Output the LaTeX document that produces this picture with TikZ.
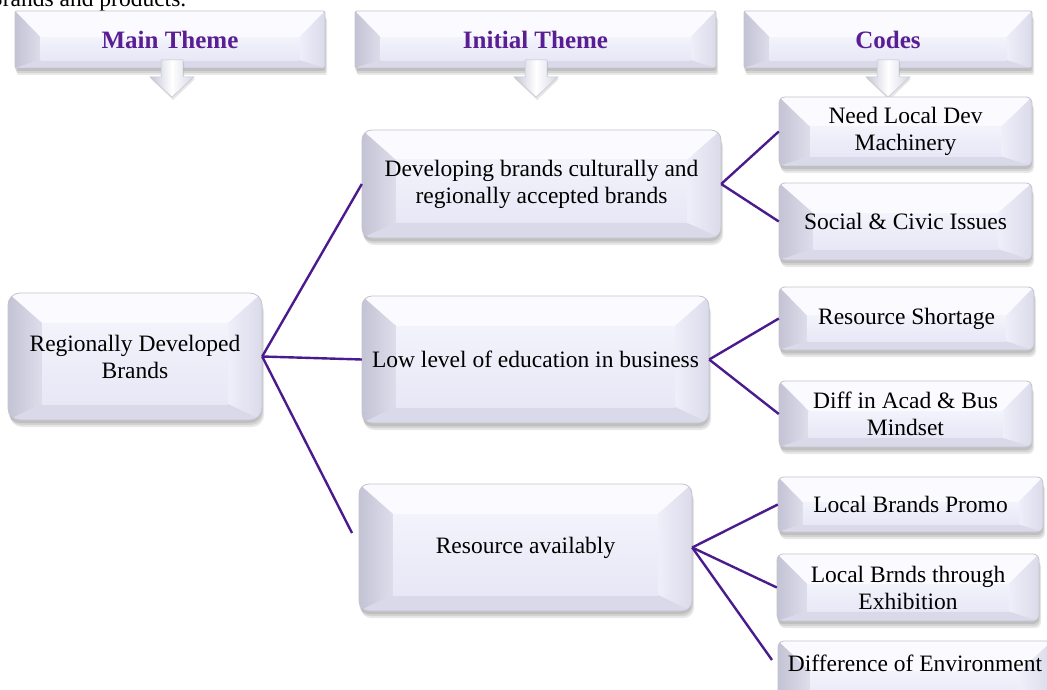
\documentclass[tikz,border=0pt]{standalone}
\usepackage{fontspec}
\setmainfont{Liberation Serif}
\definecolor{boxtop}{HTML}{F3F3FC}
\definecolor{boxbot}{HTML}{E7E7F6}
\definecolor{bevT}{HTML}{FBFBFF}
\definecolor{bevLa}{HTML}{C3C3D5}
\definecolor{bevLb}{HTML}{DDDDEB}
\definecolor{bevRa}{HTML}{DADAEA}
\definecolor{bevRb}{HTML}{EFEFFA}
\definecolor{bevB}{HTML}{D9D9E9}
\definecolor{edgec}{HTML}{C4C4CE}
\definecolor{linkc}{HTML}{4B1B8E}
\definecolor{headc}{HTML}{5A1E94}
\definecolor{arrA}{HTML}{C6C6D8}
\definecolor{arrB}{HTML}{D6D6E6}
\tikzset{
  link/.style={draw=linkc, line width=2.4pt},
  lbl/.style={align=center, font=\fontsize{23.5}{27}\selectfont, inner sep=0pt},
  hlbl/.style={font=\bfseries\fontsize{25}{27}\selectfont, text=headc},
  arrowfill/.style={left color=arrA, right color=arrB, middle color=white},
}
\newcommand\bevbox[8]{%
  \pgfmathsetmacro\bw{#4-#2}%
  \pgfmathsetmacro\bh{#5-#3}%
  \pgfmathsetmacro\bs{min(34,0.45*\bh)}%
  \pgfmathsetmacro\bt{min(30,0.46*\bh)}%
  \pgfmathsetmacro\bb{min(16,0.14*\bh)}%
  \foreach \k in {1,2,3}{\fill[black,opacity=0.09,rounded corners=#6] (#2+\k-1,#3+2*\k+1) rectangle (#4+\k-1,#5+2*\k+1);}
  \begin{scope}
    \clip[rounded corners=#6] (#2,#3) rectangle (#4,#5);
    \fill[boxbot] (#2,#3) rectangle (#4,#5);
    \fill[bevT] (#2,#3) -- (#4,#3) -- (#4-\bs,#3+\bt) -- (#2+\bs,#3+\bt) -- cycle;
    \shade[left color=bevLa, right color=bevLb] (#2,#3) -- (#2+\bs,#3+\bt) -- (#2+\bs,#5-\bb) -- (#2,#5) -- cycle;
    \shade[left color=bevRb, right color=bevRa] (#4,#3) -- (#4-\bs,#3+\bt) -- (#4-\bs,#5-\bb) -- (#4,#5) -- cycle;
    \fill[bevB] (#2,#5) -- (#2+\bs,#5-\bb) -- (#4-\bs,#5-\bb) -- (#4,#5) -- cycle;
    \shade[top color=boxtop, bottom color=boxbot] (#2+\bs,#3+\bt) rectangle (#4-\bs,#5-\bb);
  \end{scope}
  \draw[edgec, line width=0.8pt, rounded corners=#6] (#2,#3) rectangle (#4,#5);
  \node[lbl, minimum width=\bw pt, minimum height=\bh pt, #7] (#1) at ({(#2+#4)/2},{(#3+#5)/2}) {#8};
}
\newcommand\hdarrow[1]{%
  \fill[black,opacity=0.10] (#1-10,62) -- (#1+12,62) -- (#1+12,79) -- (#1+23,79) -- (#1+1,100) -- (#1-21,79) -- (#1-10,79) -- cycle;
  \shade[arrowfill] (#1-11,60) -- (#1+11,60) -- (#1+11,77) -- (#1+22,77) -- (#1,97) -- (#1-22,77) -- (#1-11,77) -- cycle;
  \draw[edgec, line width=0.5pt] (#1-11,60) -- (#1+11,60) -- (#1+11,77) -- (#1+22,77) -- (#1,97) -- (#1-22,77) -- (#1-11,77) -- cycle;
}
\begin{document}
\begin{tikzpicture}[x=1pt,y=-1pt]
\useasboundingbox (0,0) rectangle (1047,690);
\clip (0,0) rectangle (1047,690);
\fill[white] (0,0) rectangle (1047,690);

\node[anchor=base west, font=\fontsize{23.5}{27}\selectfont, inner sep=0pt] (note) at (-13,7) {Brands and products.};

% headers
\bevbox{h1}{15}{11}{325}{68}{2}{hlbl}{Main Theme}
\bevbox{h2}{355}{11}{716}{68}{2}{hlbl}{Initial Theme}
\bevbox{h3}{744}{11}{1032}{68}{2}{hlbl}{Codes}
\hdarrow{172}
\hdarrow{536}
\hdarrow{888}

% free connector ends
\coordinate (e3) at (352,533);
\coordinate (e7) at (772,660);

% main theme
\bevbox{m}{8}{293}{262}{420}{12}{}{Regionally Developed\\Brands}
% initial themes
\bevbox{i1}{362}{130}{721}{238}{10}{}{Developing brands culturally and\\regionally accepted brands}
\bevbox{i2}{362}{296}{709}{423}{10}{}{Low level of education in business}
\bevbox{i3}{359}{484}{692}{611}{10}{}{Resource availably}
% codes
\bevbox{c1}{779}{97}{1032}{166}{6}{}{Need Local Dev\\Machinery}
\bevbox{c2}{779}{183}{1032}{260}{6}{}{Social \& Civic Issues}
\bevbox{c3}{779}{287}{1034}{350}{6}{}{Resource Shortage}
\bevbox{c4}{779}{381}{1032}{447}{6}{}{Diff in Acad \& Bus\\Mindset}
\bevbox{c5}{778}{477}{1043}{532}{6}{}{Local Brands Promo}
\bevbox{c6}{777}{554}{1039}{621}{6}{}{Local Brnds through\\Exhibition}
\bevbox{c7}{778}{641}{1052}{712}{6}{yshift=13pt}{Difference of Environment}

\draw[link] (m.east) -- (i1.west);
\draw[link] (m.east) -- (i2.west);
\draw[link] (m.east) -- (e3);
\draw[link] (i1.east) -- (c1.west);
\draw[link] (i1.east) -- (c2.west);
\draw[link] (i2.east) -- (c3.west);
\draw[link] (i2.east) -- (c4.west);
\draw[link] (i3.east) -- (c5.west);
\draw[link] (i3.east) -- (c6.west);
\draw[link] (i3.east) -- (e7);
\end{tikzpicture}
\end{document}
